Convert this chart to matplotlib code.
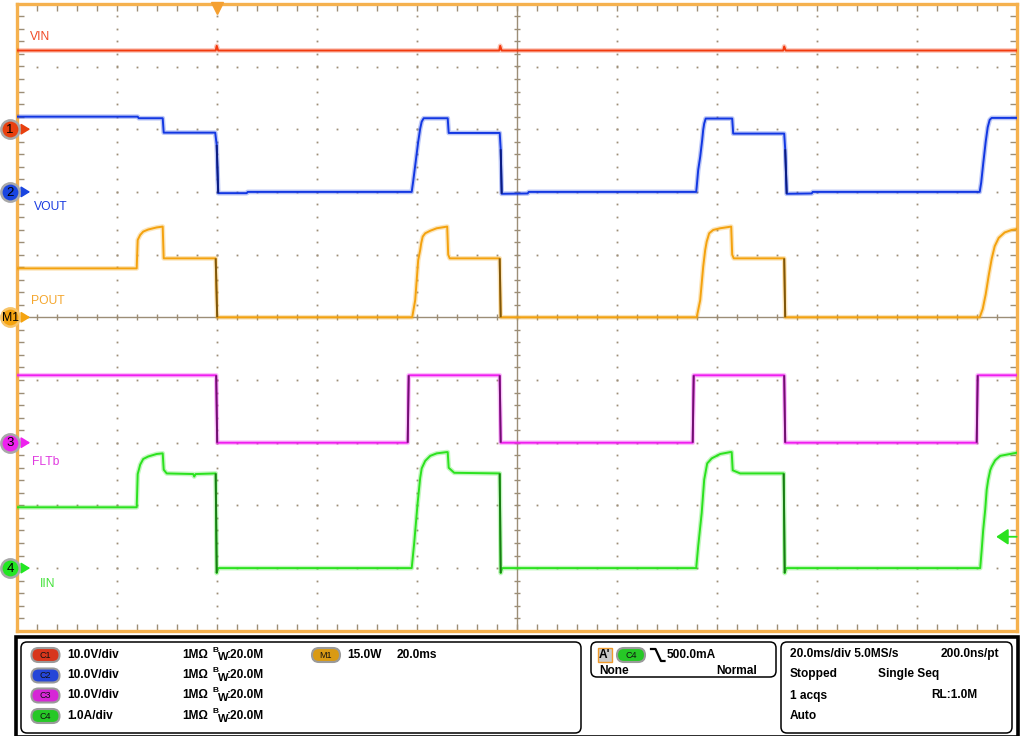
import matplotlib
matplotlib.use('Agg')
import matplotlib.pyplot as plt
import numpy as np
from matplotlib.patches import FancyBboxPatch, Rectangle
from matplotlib.collections import LineCollection

plt.rcParams['font.family'] = ['Liberation Sans', 'DejaVu Sans']
NARROW = ['Liberation Sans Narrow', 'Liberation Sans', 'DejaVu Sans']

# ---- acquisition settings ----
t_left, t_right = -40.0, 160.0        # ms, trigger at 0, 20 ms/div
vin_scale, vin_pos = 10.0, 3          # V/div, ground position (div)
vout_scale, vout_pos = 10.0, 2
pout_scale, pout_pos = 15.0, 0        # M1, W/div
fltb_scale, fltb_pos = 10.0, -2
iin_scale, iin_pos = 1.0, -4          # A/div
trig_level = 0.5                      # A on C4

# ---- waveforms: (ms, value) ----
vin_pts = [(-40, 12.55), (-0.2, 12.55), (0.0, 13.3), (0.3, 12.55),
           (56.5, 12.55), (56.7, 13.3), (57.0, 12.55),
           (113.3, 12.55), (113.5, 13.2), (113.8, 12.55), (160, 12.55)]

vout_pts = [(-40, 12.0), (-15.8, 12.0), (-15.6, 11.75), (-10.8, 11.75), (-10.6, 9.45),
            (-0.3, 9.45), (0.0, 7.5), (0.3, -0.2), (6.0, -0.2), (6.2, 0.0),
            (39.0, 0.0), (39.3, 1.7), (39.7, 4.2), (40.3, 8.0), (40.7, 10.1), (41.0, 11.2),
            (41.4, 11.75), (46.2, 11.75), (46.4, 9.4), (56.6, 9.4), (56.8, 6.8), (57.0, -0.3),
            (62.2, -0.25), (62.4, 0.0),
            (95.9, 0.0), (96.0, 0.8), (96.3, 3.5), (96.7, 5.6), (97.1, 8.3), (97.3, 9.9),
            (97.5, 10.9), (97.8, 11.7), (103.1, 11.7), (103.3, 9.3), (113.5, 9.3), (113.7, 6.8),
            (114.0, -0.3), (119.0, -0.25), (119.2, 0.0),
            (152.6, 0.0), (152.9, 1.5), (153.3, 4.5), (153.8, 8.0), (154.2, 10.3),
            (154.6, 11.5), (155.0, 11.8), (160, 11.8)]

pout_pts = [(-40, 11.7), (-16.0, 11.7), (-15.8, 18.5), (-15.3, 19.7), (-14.7, 20.5),
            (-13.7, 21.0), (-12.0, 21.5), (-10.8, 21.7), (-10.6, 14.1), (-0.2, 14.1), (0.1, 0.0),
            (39.1, 0.0), (39.7, 4.1), (40.0, 8.9), (40.3, 13.7), (40.7, 16.1), (40.9, 17.7),
            (41.2, 19.3), (41.7, 20.1), (42.7, 20.7), (44.0, 21.3), (46.1, 21.7), (46.3, 15.0),
            (46.6, 14.1), (56.6, 14.1), (56.8, 0.0),
            (96.0, 0.0), (96.3, 1.75), (96.7, 4.1), (97.0, 8.1), (97.3, 12.1), (97.7, 16.1),
            (98.0, 18.1), (98.5, 20.1), (99.3, 20.9), (100.7, 21.3), (102.9, 21.7), (103.1, 15.0),
            (103.4, 14.1), (113.5, 14.1), (113.7, 0.0),
            (152.6, 0.0), (153.2, 2.0), (153.8, 5.5), (154.4, 10.0), (155.0, 14.0),
            (155.6, 17.0), (156.4, 19.0), (157.6, 20.3), (159.0, 20.9), (160, 21.1)]

fltb_pts = [(-40, 10.75), (-0.1, 10.75), (0.1, 0.0), (38.2, 0.0), (38.4, 10.75),
            (56.6, 10.75), (56.8, 0.0), (95.2, 0.0), (95.4, 10.75), (113.5, 10.75),
            (113.7, 0.0), (152.0, 0.0), (152.2, 10.75), (160, 10.75)]

iin_pts = [(-40, 0.97), (-16.0, 0.97), (-15.8, 1.5), (-15.3, 1.65), (-14.7, 1.74),
           (-13.7, 1.78), (-12.0, 1.82), (-10.8, 1.83), (-10.6, 1.57), (-10.0, 1.51),
           (-4.7, 1.50), (-4.5, 1.46), (-4.2, 1.50), (-0.2, 1.51), (0.0, -0.08), (0.3, 0.0),
           (39.0, 0.0), (39.5, 0.4), (40.2, 1.05), (40.7, 1.44), (41.0, 1.59), (41.7, 1.71),
           (42.7, 1.79), (44.0, 1.83), (46.0, 1.85), (46.2, 1.85), (46.4, 1.60), (47.5, 1.52),
           (56.6, 1.51), (56.8, -0.08), (57.1, 0.0),
           (95.9, 0.0), (96.3, 0.35), (97.0, 0.88), (97.5, 1.41), (98.1, 1.67), (99.0, 1.75),
           (100.7, 1.82), (102.7, 1.85), (103.0, 1.85), (103.2, 1.56), (104.7, 1.51),
           (113.4, 1.51), (113.6, -0.08), (113.9, 0.0),
           (152.7, 0.0), (153.0, 0.29), (153.3, 0.61), (153.7, 0.93), (154.0, 1.25),
           (154.3, 1.41), (154.7, 1.56), (155.0, 1.62), (155.7, 1.72), (156.7, 1.79), (160, 1.84)]

# ---- colours ----
BORDER = '#F5B14E'
GRAT = '#9C8E77'
C_VIN, D_VIN = '#F23A0E', '#8A1E06'
C_VOUT, D_VOUT = '#1237E2', '#0B1C80'
C_POUT, D_POUT = '#F4A20E', '#7E560C'
C_FLT, D_FLT = '#F01EF0', '#6E126E'
C_IIN, D_IIN = '#2BE21E', '#1A7A16'

fig = plt.figure(figsize=(10.24, 7.36), dpi=100)
fig.patch.set_facecolor('white')

# pixel overlay for the readout panel
pa = fig.add_axes([0, 0, 1, 1], zorder=0)
pa.set_xlim(0, 1024)
pa.set_ylim(736, 0)
pa.axis('off')

ax = fig.add_axes([16.7 / 1024, 1 - 630.8 / 736, 1000 / 1024, 627 / 736], zorder=1)
ax.set_xlim(t_left, t_right)
ax.set_ylim(-5, 5)
ax.set_facecolor('white')

# ---- graticule ----
minor_x = np.arange(t_left, t_right + 0.01, 4)
minor_y = np.arange(-5, 5.01, 0.2)
for gx in np.arange(t_left + 20, t_right, 20):
    if abs(gx - 60) < 1e-6:
        continue
    ax.plot(np.full_like(minor_y, gx), minor_y, ls='none', marker='s', ms=1.3,
            mew=0, color=GRAT, zorder=1)
for gy in range(-4, 5):
    if gy == 0:
        continue
    ax.plot(minor_x, np.full_like(minor_x, gy), ls='none', marker='s', ms=1.3,
            mew=0, color=GRAT, zorder=1)
ax.axvline(60, color=GRAT, lw=1.0, zorder=1)
ax.axhline(0, color=GRAT, lw=1.0, zorder=1)
ax.plot(np.full_like(minor_y, 60), minor_y, ls='none', marker='_', ms=5, mew=1, color=GRAT, zorder=1)
ax.plot(minor_x, np.zeros_like(minor_x), ls='none', marker='|', ms=5, mew=1, color=GRAT, zorder=1)

ax.set_xticks(minor_x)
ax.set_yticks(minor_y)
ax.tick_params(direction='in', length=5, width=1, color=GRAT, top=True, right=True,
               labelbottom=False, labelleft=False)
for s in ax.spines.values():
    s.set_color(BORDER)
    s.set_linewidth(2.4)


def draw_trace(pts, scale, pos, color, dark):
    t = np.array([p[0] for p in pts], float)
    y = np.array([p[1] for p in pts], float) / scale + pos
    ax.plot(t, y, color=color, lw=3.4, alpha=0.28, zorder=3)
    ax.plot(t, y, color=color, lw=1.4, zorder=4)
    dt = np.diff(t)
    dy = np.diff(y)
    steep = (np.abs(dy) > 0.6) & (np.abs(dy) / np.maximum(dt, 1e-6) > 2)
    segs = [[(t[i], y[i]), (t[i + 1], y[i + 1])] for i in np.where(steep)[0]]
    if segs:
        ax.add_collection(LineCollection(segs, colors=dark, linewidths=1.4, zorder=5))


draw_trace(vin_pts, vin_scale, vin_pos, C_VIN, D_VIN)
draw_trace(vout_pts, vout_scale, vout_pos, C_VOUT, D_VOUT)
draw_trace(pout_pts, pout_scale, pout_pos, C_POUT, D_POUT)
draw_trace(fltb_pts, fltb_scale, fltb_pos, C_FLT, D_FLT)
draw_trace(iin_pts, iin_scale, iin_pos, C_IIN, D_IIN)

# trace labels
ax.text(-37.3, 4.47, 'VIN', color='#F04A26', fontsize=8.7, family=NARROW, va='center', zorder=6)
ax.text(-36.5, 1.76, 'VOUT', color='#1A3CE0', fontsize=8.7, family=NARROW, va='center', zorder=6)
ax.text(-37.2, 0.255, 'POUT', color='#F5A72E', fontsize=8.7, family=NARROW, va='center', zorder=6)
ax.text(-36.9, -2.30, 'FLTb', color='#E03AE0', fontsize=8.7, family=NARROW, va='center', zorder=6)
ax.text(-35.3, -4.25, 'IIN', color='#44E23A', fontsize=8.7, family=NARROW, va='center', zorder=6)

# ---- channel ground markers on the left ----
mark_t = t_left - 1.33
markers = [('1', vin_pos, '#E8400F', '#A8A8A8'),
           ('2', vout_pos, '#1A45E0', '#A8A8A8'),
           ('M1', pout_pos, '#F5A30F', '#F8C468'),
           ('3', fltb_pos, '#EE22EE', '#A8A8A8'),
           ('4', iin_pos, '#22E622', '#A8A8A8')]
for lab, pos, fill, ring in markers:
    ax.annotate('', xy=(t_left + 2.7, pos), xytext=(t_left - 0.4, pos),
                arrowprops=dict(arrowstyle='-|>,head_length=0.65,head_width=0.4',
                                color=fill, lw=1.3, mutation_scale=8, shrinkA=0, shrinkB=0),
                annotation_clip=False, zorder=9)
    ax.plot(mark_t, pos, 'o', ms=13.2, mfc=fill, mec=ring, mew=1.8, clip_on=False, zorder=10)
    ax.text(mark_t, pos - 0.01, lab, ha='center', va='center', fontsize=9.5 if lab != 'M1' else 8.8,
            color='black', clip_on=False, zorder=11)

# trigger position and level markers
ax.plot(0, 4.93, marker='v', ms=9, color='#F5A030', mec='#F5A030', clip_on=False, zorder=10)
trig_y = trig_level / iin_scale + iin_pos
ax.annotate('', xy=(t_right - 4.1, trig_y), xytext=(t_right, trig_y),
            arrowprops=dict(arrowstyle='-|>,head_length=0.9,head_width=0.6',
                            color=C_IIN, lw=1.3, mutation_scale=8, shrinkA=0, shrinkB=0),
            annotation_clip=False, zorder=9)

# ---- readout panel ----
pa.add_patch(Rectangle((16, 637), 1002, 100, fc='white', ec='black', lw=2.6))


def rbox(x0, y0, x1, y1):
    pa.add_patch(FancyBboxPatch((x0 + 5, y0 + 5), x1 - x0 - 10, y1 - y0 - 10,
                                boxstyle='round,pad=5,rounding_size=6',
                                fc='white', ec='black', lw=1.1))


rbox(21, 642, 581, 733)
rbox(591, 642, 776, 677)
rbox(781, 642, 1012, 733)


def pill(x0, yc, fill, lab):
    pa.add_patch(FancyBboxPatch((x0 + 7, yc - 3), 20, 6,
                                boxstyle='round,pad=4,rounding_size=7',
                                fc=fill, ec='#9A9A9A', lw=1.5))
    pa.text(x0 + 17, yc + 0.5, lab, ha='center', va='center', fontsize=6.5, color='#111111')


TXT = dict(fontsize=8.6, fontweight='bold', color='black', va='center')
rows = [655, 675.5, 695.5, 716]
ch_rows = [('C1', '#D8361C', '10.0V/div'), ('C2', '#2546D8', '10.0V/div'),
           ('C3', '#D626D6', '10.0V/div'), ('C4', '#26C826', '1.0A/div')]
for (lab, col, sc), yc in zip(ch_rows, rows):
    pill(28.5, yc, col, lab)
    pa.text(67, yc, sc, **TXT)
    pa.text(182, yc, '1M\u03a9', **TXT)
    pa.text(212.5, yc - 4.5, 'B', fontsize=6, fontweight='bold', va='center')
    pa.text(217.8, yc + 2.5, 'W', fontsize=8, fontweight='bold', va='center')
    pa.text(226.5, yc, ':20.0M', **TXT)

pill(309, rows[0], '#D99A14', 'M1')
pa.text(347.5, rows[0], '15.0W', **TXT)
pa.text(397, rows[0], '20.0ms', **TXT)

# trigger box
pa.add_patch(Rectangle((597.5, 648), 14, 14, fc='#C9C9C9', ec='#F09A2A', lw=1))
pa.text(599, 655, "A'", **TXT)
pill(614, 655, '#26C826', 'C4')
pa.plot([651, 655.5, 661, 664.5], [649, 649, 661, 661], color='black', lw=1.6)
pa.text(667, 655, '500.0mA', **TXT)
pa.text(599.5, 671, 'None', **TXT)
pa.text(757, 671, 'Normal', ha='right', **TXT)

# timebase box
pa.text(789.5, 654, '20.0ms/div 5.0MS/s', **TXT)
pa.text(999, 654, '200.0ns/pt', ha='right', **TXT)
pa.text(789.5, 674.5, 'Stopped', **TXT)
pa.text(878.5, 674.5, 'Single Seq', **TXT)
pa.text(789.5, 695.5, '1 acqs', **TXT)
pa.text(977, 695.5, 'RL:1.0M', ha='right', **TXT)
pa.text(789.5, 716, 'Auto', **TXT)

fig.savefig('out.png', dpi=100, facecolor='white')
